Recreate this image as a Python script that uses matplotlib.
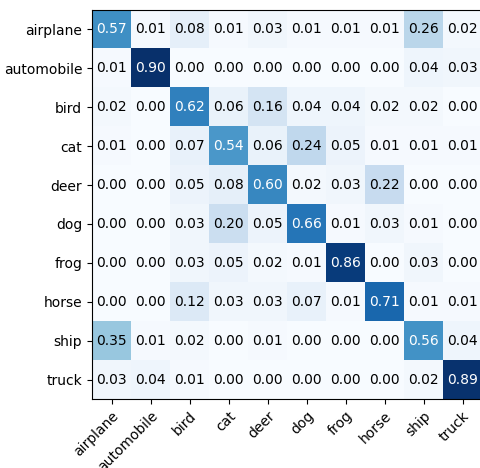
import numpy as np
import matplotlib
matplotlib.use('Agg')
import matplotlib.pyplot as plt

classes = ['airplane', 'automobile', 'bird', 'cat', 'deer',
           'dog', 'frog', 'horse', 'ship', 'truck']

# row-normalised confusion matrix (true label = row, prediction = column)
airplane_row   = [0.57, 0.01, 0.08, 0.01, 0.03, 0.01, 0.01, 0.01, 0.26, 0.02]
automobile_row = [0.01, 0.90, 0.00, 0.00, 0.00, 0.00, 0.00, 0.00, 0.04, 0.03]
bird_row       = [0.02, 0.00, 0.62, 0.06, 0.16, 0.04, 0.04, 0.02, 0.02, 0.00]
cat_row        = [0.01, 0.00, 0.07, 0.54, 0.06, 0.24, 0.05, 0.01, 0.01, 0.01]
deer_row       = [0.00, 0.00, 0.05, 0.08, 0.60, 0.02, 0.03, 0.22, 0.00, 0.00]
dog_row        = [0.00, 0.00, 0.03, 0.20, 0.05, 0.66, 0.01, 0.03, 0.01, 0.00]
frog_row       = [0.00, 0.00, 0.03, 0.05, 0.02, 0.01, 0.86, 0.00, 0.03, 0.00]
horse_row      = [0.00, 0.00, 0.12, 0.03, 0.03, 0.07, 0.01, 0.71, 0.01, 0.01]
ship_row       = [0.35, 0.01, 0.02, 0.00, 0.01, 0.00, 0.00, 0.00, 0.56, 0.04]
truck_row      = [0.03, 0.04, 0.01, 0.00, 0.00, 0.00, 0.00, 0.00, 0.02, 0.89]

cm = np.array([airplane_row, automobile_row, bird_row, cat_row, deer_row,
               dog_row, frog_row, horse_row, ship_row, truck_row])

fig = plt.figure(figsize=(4.8, 4.68), dpi=100)
ax = fig.add_axes([92 / 480, 1 - 399 / 468, 390 / 480, 389 / 468])
ax.imshow(cm, interpolation='nearest', cmap=plt.cm.Blues, aspect='auto')

ticks = np.arange(len(classes))
ax.set_xticks(ticks)
ax.set_xticklabels(classes, rotation=45, ha='right', rotation_mode='anchor',
                   fontsize=10)
ax.set_yticks(ticks)
ax.set_yticklabels(classes, fontsize=10)

thresh = cm.max() / 2.
for i in range(cm.shape[0]):
    for j in range(cm.shape[1]):
        ax.text(j, i, format(cm[i, j], '.2f'),
                ha='center', va='center', fontsize=10,
                color='white' if cm[i, j] > thresh else 'black')

fig.savefig('out.png', dpi=100)
